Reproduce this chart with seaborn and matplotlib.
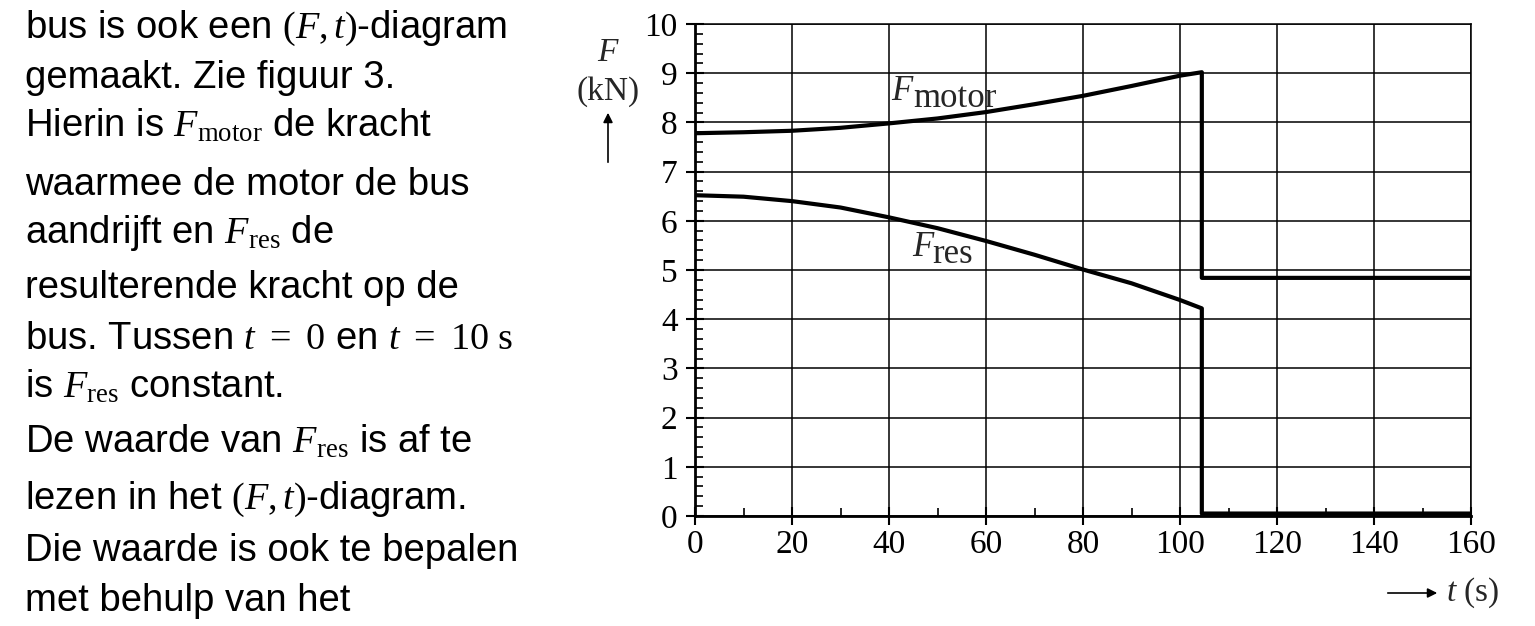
import numpy as np
import pandas as pd
import matplotlib
matplotlib.use("Agg")
import matplotlib.pyplot as plt
from matplotlib.ticker import MultipleLocator
import seaborn as sns

t_motor = [0, 10, 20, 30, 40, 50, 60, 70, 80, 90, 100, 104.5, 104.5, 160]
F_motor = [7.78, 7.80, 7.83, 7.89, 7.98, 8.08, 8.21, 8.37, 8.54, 8.74, 8.95, 9.02, 4.84, 4.84]
t_res = [0, 10, 20, 30, 40, 50, 60, 70, 80, 90, 100, 104.5, 104.5, 160]
F_res = [6.52, 6.49, 6.40, 6.27, 6.07, 5.85, 5.59, 5.31, 5.01, 4.73, 4.39, 4.22, 0.05, 0.05]

x_ticks = [0, 20, 40, 60, 80, 100, 120, 140, 160]
y_ticks = [0, 1, 2, 3, 4, 5, 6, 7, 8, 9, 10]

text_lines = [
    r"bus is ook een $(F,t)$-diagram",
    r"gemaakt. Zie figuur 3.",
    r"Hierin is $F_{\mathrm{motor}}$ de kracht",
    r"waarmee de motor de bus",
    r"aandrijft en $F_{\mathrm{res}}$ de",
    r"resulterende kracht op de",
    r"bus. Tussen $t\ =\ 0$ en $t\ =\ 10\ \mathrm{s}$",
    r"is $F_{\mathrm{res}}$ constant.",
    r"De waarde van $F_{\mathrm{res}}$ is af te",
    r"lezen in het $(F,t)$-diagram.",
    r"Die waarde is ook te bepalen",
    r"met behulp van het",
]
# baseline of each text line, pixels from the top
line_y = [38, 88, 137, 195, 243, 298, 349, 398, 453, 509, 561, 611]

sns.set_theme(style="white")
plt.rcParams["font.family"] = ["Liberation Serif", "DejaVu Serif"]
plt.rcParams["mathtext.fontset"] = "custom"
plt.rcParams["mathtext.rm"] = "Liberation Serif"
plt.rcParams["mathtext.it"] = "Liberation Serif:italic"

W, H = 1535, 626
fig = plt.figure(figsize=(W / 100, H / 100), dpi=100)
ax = fig.add_axes([695 / W, 1 - 516 / H, (1471 - 695) / W, (516 - 24) / H])

df_m = pd.DataFrame({"t": t_motor, "F": F_motor})
df_r = pd.DataFrame({"t": t_res, "F": F_res})
sns.lineplot(data=df_m, x="t", y="F", sort=False, estimator=None, color="black", lw=3.0, ax=ax)
sns.lineplot(data=df_r, x="t", y="F", sort=False, estimator=None, color="black", lw=3.0, ax=ax)

ax.set_xlim(0, 160)
ax.set_ylim(0, 10)
ax.set_xticks(x_ticks)
ax.set_yticks(y_ticks)
ax.xaxis.set_minor_locator(MultipleLocator(10))
ax.yaxis.set_minor_locator(MultipleLocator(0.2))
ax.set_xlabel("")
ax.set_ylabel("")
ax.set_axisbelow(True)
ax.grid(True, which="major", color="black", lw=1.1)
ax.tick_params(which="major", direction="inout", length=13, width=1.5,
               labelsize=24, color="black", labelcolor="black")
ax.tick_params(axis="y", which="major", pad=6)
ax.tick_params(axis="x", which="major", pad=3)
ax.tick_params(which="minor", direction="in", length=5.5, width=1.2, color="black")
ax.tick_params(bottom=True, left=True, which="both")
for side in ["left", "bottom"]:
    ax.spines[side].set_linewidth(2.0)
for side in ["top", "right"]:
    ax.spines[side].set_linewidth(1.1)
for s in ax.spines.values():
    s.set_color("black")

# curve labels
ax.text(40.5, 8.46, r"$F$", fontsize=25, ha="left", va="baseline")
ax.text(44.9, 8.32, "motor", fontsize=25, ha="left", va="baseline")
ax.text(44.7, 5.29, r"$F$", fontsize=25, ha="left", va="baseline")
ax.text(49.0, 5.15, "res", fontsize=25, ha="left", va="baseline")

# axis labels with arrows
fig.text(608 / W, 1 - 61 / H, r"$F$", fontsize=24, ha="center", va="baseline")
fig.text(608 / W, 1 - 100 / H, "(kN)", fontsize=24, ha="center", va="baseline")
ax.annotate("", xy=(608, H - 110), xytext=(608, H - 165), xycoords="figure pixels",
            textcoords="figure pixels",
            arrowprops=dict(arrowstyle="-|>", lw=1.2, color="black", mutation_scale=14))
ax.annotate("", xy=(1440, H - 593), xytext=(1385, H - 593), xycoords="figure pixels",
            textcoords="figure pixels",
            arrowprops=dict(arrowstyle="-|>", lw=1.2, color="black", mutation_scale=14))
fig.text(1446 / W, 1 - 601 / H, r"$t$ (s)", fontsize=24, ha="left", va="baseline")

# explanatory text on the left
for line, y in zip(text_lines, line_y):
    fig.text(25 / W, 1 - y / H, line, fontsize=27.5,
             family=["Liberation Sans", "DejaVu Sans"], ha="left", va="baseline",
             color="black")

fig.savefig("out.png", dpi=100, facecolor="white")
